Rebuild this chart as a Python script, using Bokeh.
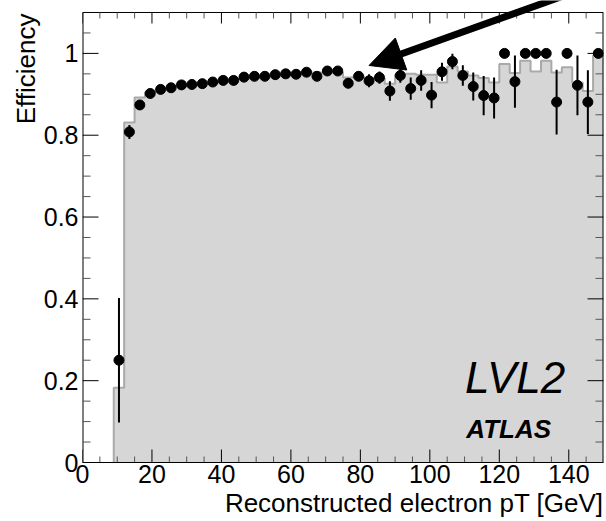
import math
from bokeh.plotting import figure
from bokeh.models import (SingleIntervalTicker, CustomJSTickFormatter,
                          Range1d, Label, Arrow, NormalHead, Title)
from bokeh.embed import file_html
from bokeh.resources import INLINE

# ---------------- data ----------------
bin_edges = list(range(9, 151, 3))          # 3 GeV bins from 9 to 150 GeV
bin_centers = [(a + b) / 2 for a, b in zip(bin_edges[:-1], bin_edges[1:])]

# simulated efficiency (grey histogram)
mc_eff = [0.183, 0.831, 0.892, 0.905, 0.912, 0.915, 0.920, 0.922, 0.925, 0.928,
          0.931, 0.933, 0.938, 0.940, 0.942, 0.945, 0.947, 0.948, 0.952, 0.953,
          0.953, 0.953, 0.941, 0.945, 0.940, 0.940, 0.926, 0.948, 0.950, 0.948,
          0.948, 0.929, 0.968, 0.956, 0.946, 0.940, 0.929, 0.974, 0.952, 0.982,
          0.956, 0.982, 0.953, 0.966, 0.929, 0.908, 0.995]

# measured efficiency (points)
data_eff = [0.250, 0.808, 0.874, 0.902, 0.912, 0.916, 0.923, 0.924, 0.926, 0.930,
            0.934, 0.934, 0.942, 0.944, 0.944, 0.948, 0.950, 0.949, 0.954, 0.944,
            0.957, 0.957, 0.927, 0.944, 0.933, 0.941, 0.908, 0.946, 0.914, 0.934,
            0.898, 0.955, 0.980, 0.946, 0.919, 0.897, 0.891, 1.000, 0.931, 1.000,
            1.000, 1.000, 0.881, 1.000, 0.922, 0.881, 1.000]

data_err = [0.152, 0.017, 0.008, 0.006, 0.005, 0.005, 0.005, 0.005, 0.004, 0.004,
            0.004, 0.004, 0.004, 0.004, 0.004, 0.004, 0.004, 0.004, 0.006, 0.007,
            0.007, 0.008, 0.012, 0.011, 0.016, 0.015, 0.024, 0.018, 0.027, 0.025,
            0.032, 0.022, 0.019, 0.025, 0.034, 0.048, 0.050, 0.000, 0.064, 0.000,
            0.000, 0.000, 0.079, 0.000, 0.073, 0.078, 0.000]

x_major_ticks = [0, 20, 40, 60, 80, 100, 120, 140]
x_minor_ticks = [v for v in range(5, 150, 5) if v % 20 != 0]
y_major_ticks = [0.0, 0.2, 0.4, 0.6, 0.8, 1.0]
y_minor_ticks = [0.05, 0.10, 0.15, 0.25, 0.30, 0.35, 0.45, 0.50, 0.55,
                 0.65, 0.70, 0.75, 0.85, 0.90, 0.95, 1.05]

X_MIN, X_MAX = 0, 150
Y_MIN, Y_MAX = 0, 1.1          # visible plot box
Y_VIEW_MAX = 1.1293            # frame reaches the top edge so the arrow can leave the box

FONT = "Liberation Sans"

# ---------------- figure ----------------
p = figure(width=606, height=521, x_range=Range1d(X_MIN, X_MAX), y_range=Range1d(Y_MIN, Y_VIEW_MAX),
           output_backend="svg", toolbar_location=None,
           min_border_left=82, min_border_right=3, min_border_top=0, min_border_bottom=59)
p.grid.visible = False
p.outline_line_color = None
p.background_fill_color = "white"
p.border_fill_color = "white"

fmt = CustomJSTickFormatter(code="return String(Math.round(tick*10)/10);")
p.xaxis.ticker = SingleIntervalTicker(interval=20, num_minor_ticks=4)
p.yaxis.ticker = SingleIntervalTicker(interval=0.2, num_minor_ticks=4)
for ax in (p.xaxis[0], p.yaxis[0]):
    ax.major_tick_in = 0
    ax.major_tick_out = 0
    ax.minor_tick_in = 0
    ax.minor_tick_out = 0
    ax.major_label_text_font = FONT
    ax.major_label_text_font_size = "25px"
    ax.major_label_text_color = "black"
    ax.formatter = fmt
p.xaxis.axis_line_color = "black"
p.yaxis.axis_line_color = None
p.xaxis.major_label_standoff = 2
p.yaxis.major_label_standoff = 4

# ---------------- histogram ----------------
p.varea_step(x=bin_edges, y1=[0] * len(bin_edges), y2=mc_eff + [mc_eff[-1]],
             step_mode="after", fill_color="#d6d6d6")
p.step(x=[bin_edges[0]] + bin_edges, y=[0] + mc_eff + [mc_eff[-1]], mode="after",
       line_color="#a9a9a9", line_width=2)

# ---------------- plot box (left, right, top) ----------------
p.segment(x0=[X_MIN, X_MAX], y0=[Y_MIN, Y_MIN], x1=[X_MIN, X_MAX], y1=[Y_MAX, Y_MAX],
          line_color="black", line_width=2)
p.segment(x0=[X_MIN], y0=[Y_MAX], x1=[X_MAX], y1=[Y_MAX], line_color="black", line_width=1)

# ---------------- inward ticks (ROOT style) ----------------
def ticks(xs, ys, length, angle, color):
    p.ray(x=xs, y=ys, length=length, length_units="screen", angle=angle,
          line_color=color, line_width=1)

ticks(x_major_ticks, [Y_MIN] * len(x_major_ticks), 13, math.pi / 2, "black")
ticks(x_minor_ticks, [Y_MIN] * len(x_minor_ticks), 6, math.pi / 2, "#555555")
ticks(x_major_ticks, [Y_MAX] * len(x_major_ticks), 11, -math.pi / 2, "black")
ticks(x_minor_ticks, [Y_MAX] * len(x_minor_ticks), 6, -math.pi / 2, "#555555")
ticks([X_MIN] * len(y_major_ticks), y_major_ticks, 16, 0, "black")
ticks([X_MIN] * len(y_minor_ticks), y_minor_ticks, 8, 0, "#555555")
ticks([X_MAX] * len(y_major_ticks), y_major_ticks, 16, math.pi, "black")
ticks([X_MAX] * len(y_minor_ticks), y_minor_ticks, 8, math.pi, "#555555")

# ---------------- data points ----------------
lo = [v - e for v, e in zip(data_eff, data_err)]
hi = [v + e for v, e in zip(data_eff, data_err)]
p.segment(x0=bin_centers, y0=lo, x1=bin_centers, y1=hi, line_color="black", line_width=2)
p.scatter(bin_centers, data_eff, size=10, color="black")

# ---------------- annotations ----------------
p.add_layout(Arrow(end=NormalHead(size=34, fill_color="black", line_color="black"),
                   x_start=146.2, y_start=1.164, x_end=82.5, y_end=0.9705,
                   line_width=7, line_color="black"))

p.add_layout(Label(x=139.0, y=0.208, text="LVL2", text_font=FONT, text_font_style="italic",
                   text_font_size="44px", text_color="black",
                   text_align="right", text_baseline="middle"))
p.add_layout(Label(x=110.5, y=0.081, text="ATLAS", text_font=FONT, text_font_style="bold italic",
                   text_font_size="26px", text_color="black",
                   text_align="left", text_baseline="middle"))

# axis titles (right-aligned, ROOT style)
p.add_layout(Title(text="Efficiency", align="right", text_font=FONT, text_font_size="26px",
                   text_font_style="normal", text_color="black", standoff=0, offset=13), "left")
p.add_layout(Title(text="Reconstructed electron pT [GeV]", align="right", text_font=FONT,
                   text_font_size="26px", text_font_style="normal", text_color="black",
                   standoff=0), "below")

open("out.html", "w").write(file_html(p, INLINE))
